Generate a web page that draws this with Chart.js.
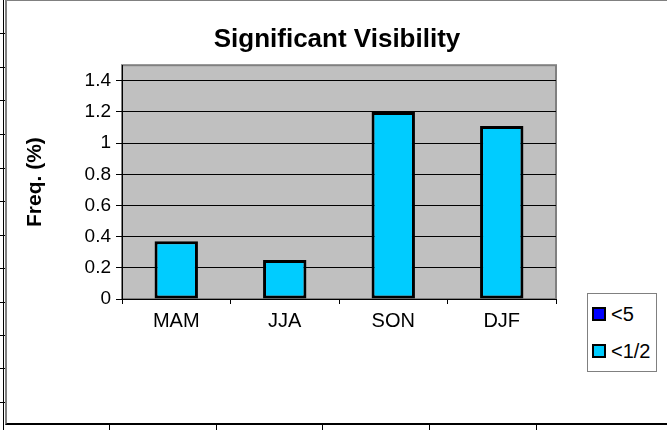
<!DOCTYPE html>
<html>
<head>
<meta charset="utf-8">
<script src="https://cdn.jsdelivr.net/npm/chart.js@4"></script>
<style>
  body { margin: 0; background: #fff; font-family: Arial, "Liberation Sans", sans-serif; }
  #wrap { position: relative; width: 667px; height: 430px; overflow: hidden; }
  .ln { position: absolute; background: #000; }
  #frame { position: absolute; left: 5px; top: 0; width: 662px; height: 425px; box-sizing: border-box;
           border-left: 2px solid #808080; border-top: 1px solid #808080; border-bottom: 2px solid #000; }
  #chart { position: absolute; left: 7px; top: 1px; }
  #legend { position: absolute; left: 587px; top: 293px; width: 70px; height: 79px; box-sizing: border-box;
            border: 1px solid #808080; background: #fff; font-size: 20px; color: #000; }
  .item { position: absolute; left: 4px; height: 20px; display: flex; align-items: center; white-space: nowrap; }
  .sw { width: 10px; height: 10px; border: 2px solid #000; margin-right: 5px; }
</style>
</head>
<body>
<div id="wrap">
  <div id="frame"></div>
  <canvas id="chart" width="660" height="422"></canvas>
  <div id="legend"></div>
</div>
<script>
const seasons = ["MAM", "JJA", "SON", "DJF"];
const below5 = [0, 0, 0, 0];
const belowHalf = [0.37, 0.25, 1.20, 1.11];
const yTicks = [0, 0.2, 0.4, 0.6, 0.8, 1, 1.2, 1.4];

// spreadsheet cell lines around the chart
const wrap = document.getElementById("wrap");
function line(l, t, w, h) {
  const d = document.createElement("div");
  d.className = "ln";
  d.style.cssText = `left:${l}px;top:${t}px;width:${w}px;height:${h}px`;
  wrap.appendChild(d);
}
line(3, 0, 1, 430);
[33, 67, 100, 134, 168, 201, 235, 268, 302, 335, 368, 402].forEach(y => line(0, y, 5, 1));
[109, 216, 322, 429, 536].forEach(x => line(x, 425, 1, 5));

const plotBg = {
  id: "plotBg",
  beforeDraw(chart) {
    const { ctx, chartArea: a } = chart;
    ctx.save();
    ctx.fillStyle = "#c0c0c0";
    ctx.fillRect(a.left, a.top, a.right - a.left, a.bottom - a.top);
    ctx.strokeStyle = "#808080";
    ctx.lineWidth = 2;
    ctx.strokeRect(a.left, a.top, a.right - a.left, a.bottom - a.top);
    ctx.restore();
  }
};

const family = 'Arial, "Liberation Sans", sans-serif';

const chart = new Chart(document.getElementById("chart"), {
  type: "bar",
  data: {
    labels: seasons,
    datasets: [
      { label: "<5", data: below5, backgroundColor: "#0000ff", borderColor: "#000", borderWidth: 0, grouped: false },
      { label: "<1/2", data: belowHalf, backgroundColor: "#00ccff", borderColor: "#000", borderWidth: 3,
        borderSkipped: false, grouped: false }
    ]
  },
  options: {
    responsive: false,
    animation: false,
    layout: { padding: { left: 0, top: 0, right: 0, bottom: 84 } },
    datasets: { bar: { barPercentage: 0.4, categoryPercentage: 1 } },
    plugins: {
      legend: { display: false },
      tooltip: { enabled: false },
      title: {
        display: true,
        text: "Significant Visibility",
        color: "#000",
        font: { family, size: 26, weight: "bold", lineHeight: 1.2 },
        padding: { top: 23, bottom: 10 }
      }
    },
    scales: {
      x: {
        grid: { drawOnChartArea: false, drawTicks: true, tickLength: 5, color: "#000", offset: true },
        border: { color: "#000", width: 1 },
        ticks: { color: "#000", font: { family, size: 20 }, padding: 5, maxRotation: 0 },
        afterFit: s => { s.height = 40; }
      },
      y: {
        min: 0,
        max: 1.5,
        grid: { color: "#000", lineWidth: 1, tickLength: 6 },
        border: { color: "#000", width: 1 },
        ticks: { color: "#000", font: { family, size: 19 }, padding: 5, callback: v => String(+v.toFixed(1)) },
        afterBuildTicks: s => { s.ticks = yTicks.map(v => ({ value: v })); },
        title: {
          display: true,
          text: "Freq. (%)",
          color: "#000",
          font: { family, size: 21, weight: "bold", lineHeight: 1.2 },
          padding: { top: 16, bottom: 0 }
        },
        afterFit: s => { s.width = 115; }
      },
      // empty right axis that keeps room for the legend box
      side: {
        position: "right",
        display: true,
        grid: { display: false },
        border: { display: false },
        ticks: { display: false },
        afterFit: s => { s.width = 111; }
      }
    }
  },
  plugins: [plotBg]
});

// legend box built from the datasets
const legend = document.getElementById("legend");
chart.data.datasets.forEach((ds, i) => {
  const it = document.createElement("div");
  it.className = "item";
  it.style.top = (10 + i * 37) + "px";
  it.innerHTML = `<span class="sw" style="background:${ds.backgroundColor}"></span><span>${ds.label.replace("<", "&lt;")}</span>`;
  legend.appendChild(it);
});
</script>
</body>
</html>
